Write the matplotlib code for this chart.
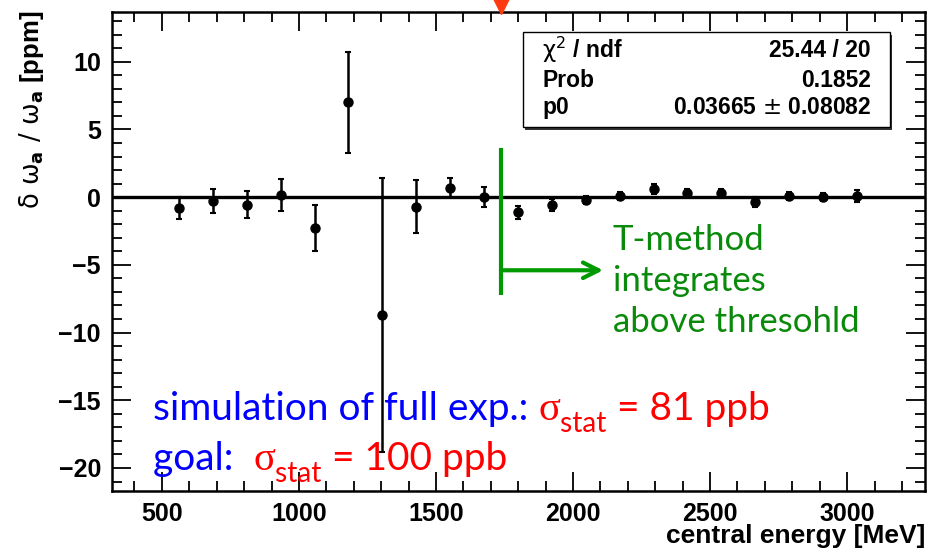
# plot.py
# Residuals of omega_a versus central energy, with a constant fit
# and the T-method threshold annotation.

import matplotlib
matplotlib.use("Agg")

import matplotlib.pyplot as plt
from matplotlib.patches import Rectangle
from matplotlib.ticker import MultipleLocator


# central energy of each slice [MeV]
ENERGY = [562, 686, 809, 933, 1057, 1180, 1304, 1428, 1552, 1675, 1799,
          1923, 2046, 2170, 2294, 2417, 2541, 2665, 2789, 2912, 3036]

# delta omega_a / omega_a [ppm]
DELTA = [-0.8, -0.3, -0.55, 0.15, -2.3, 7.0, -8.7, -0.7, 0.7, 0.02, -1.13,
         -0.6, -0.22, 0.1, 0.6, 0.32, 0.27, -0.35, 0.1, 0.02, 0.1]

DELTA_ERR = [0.8, 0.9, 1.0, 1.2, 1.7, 3.75, 10.1, 1.95, 0.72, 0.75, 0.5,
             0.45, 0.3, 0.3, 0.35, 0.3, 0.3, 0.35, 0.3, 0.3, 0.45]

# constant fit result (pol0)
FIT_P0 = 0.03665
FIT_P0_ERR = 0.08082
CHI2 = 25.44
NDF = 20
PROB = 0.1852

THRESHOLD = 1737  # MeV, T-method energy threshold

STAT_ROWS = [
    (r"$\mathrm{\chi}^{2}$ / ndf", f"{CHI2:.2f} / {NDF}"),
    ("Prob", f"{PROB:.4f}"),
    ("p0", f"{FIT_P0:.5f} $\\pm$ {FIT_P0_ERR:.5f}"),
]

SANS = ["Lato", "DejaVu Sans"]
ROOT_FONT = "Liberation Sans"


def chain_text(fig, x, y, parts, fontsize):
    """Draw text pieces one after another on a common baseline (pixel coords)."""
    renderer = fig.canvas.get_renderer()
    cur = x
    for text, color, family, size_scale, dy in parts:
        t = fig.text(cur / fig.bbox.width, 1 - (y + dy) / fig.bbox.height, text,
                     color=color, family=family, fontsize=fontsize * size_scale,
                     ha="left", va="baseline")
        bb = t.get_window_extent(renderer=renderer)
        cur = bb.x1


fig = plt.figure(figsize=(9.28, 5.51), dpi=100)
ax = fig.add_axes([0.1207, 0.1089, 0.876, 0.869])

ax.set_xlim(318, 3284)
ax.set_ylim(-21.7, 13.66)

# fit line
ax.axhline(FIT_P0, color="black", lw=2.4, zorder=2)

# data points
ax.errorbar(ENERGY, DELTA, yerr=DELTA_ERR, fmt="o", color="black",
            markersize=6.5, elinewidth=1.8, capsize=2.5, capthick=1.5, zorder=3)

# ROOT-like frame and ticks
for side in ax.spines.values():
    side.set_linewidth(1.8)
ax.xaxis.set_major_locator(MultipleLocator(500))
ax.xaxis.set_minor_locator(MultipleLocator(100))
ax.yaxis.set_major_locator(MultipleLocator(5))
ax.yaxis.set_minor_locator(MultipleLocator(1))
ax.tick_params(which="both", direction="in", top=True, right=True, width=1.3)
ax.tick_params(which="major", length=14)
ax.tick_params(which="minor", length=7)
ax.tick_params(axis="both", which="major", labelsize=18, pad=8)
ax.set_xticks([500, 1000, 1500, 2000, 2500, 3000])
ax.set_xticklabels(["500", "1000", "1500", "2000", "2500", "3000"],
                   fontweight="bold", family=ROOT_FONT, fontsize=18)
ax.set_yticks([-20, -15, -10, -5, 0, 5, 10])
ax.set_yticklabels(["\u221220", "\u221215", "\u221210", "\u22125", "0", "5", "10"],
                   fontweight="bold", family=ROOT_FONT, fontsize=18)

fig.text(0.997, 0.014, "central energy [MeV]", ha="right", va="baseline",
         fontsize=19, fontweight="bold", family=ROOT_FONT)
fig.text(0.034, 0.80,
         r"$\mathrm{\delta}\ \mathrm{\omega}_{\mathbf{a}}\ /\ \mathrm{\omega}_{\mathbf{a}}$ [ppm]",
         rotation=90, ha="center", va="center", fontsize=18.5,
         fontweight="bold", family=ROOT_FONT)

# stat box with shadow
box_x0, box_y0, box_w, box_h = 0.5055, 0.760, 0.4515, 0.198
ax.add_patch(Rectangle((box_x0 + 0.003, box_y0 - 0.006), box_w, box_h,
                       transform=ax.transAxes, facecolor="#333333",
                       edgecolor="none", zorder=4))
ax.add_patch(Rectangle((box_x0, box_y0), box_w, box_h, transform=ax.transAxes,
                       facecolor="white", edgecolor="black", lw=1.0, zorder=5))
for (label, value), yrow in zip(STAT_ROWS, [0.9207, 0.858, 0.8017]):
    ax.text(0.529, yrow, label, transform=ax.transAxes, ha="left", va="center",
            fontsize=16.5, fontweight="bold", family=ROOT_FONT, zorder=6)
    ax.text(0.9336, yrow, value, transform=ax.transAxes, ha="right", va="center",
            fontsize=16.5, fontweight="bold", family=ROOT_FONT, zorder=6)

# threshold marker and T-method arrow
green = "#009a00"
ax.plot([THRESHOLD, THRESHOLD], [3.6, -7.2], color=green, lw=3, zorder=4,
        solid_capstyle="butt")
ax.annotate("", xy=(2110, -5.4), xytext=(THRESHOLD, -5.4),
            arrowprops=dict(arrowstyle="->", color=green, lw=3,
                            mutation_scale=28, shrinkA=0, shrinkB=0), zorder=4)
ax.text(2145, -1.95, "T-method\nintegrates\nabove thresohld", color="#0a8a0a",
        fontsize=25, family=SANS, ha="left", va="top", linespacing=1.36)
ax.plot([THRESHOLD], [14.3], marker="v", color="#ff3a10", markersize=14,
        clip_on=False, zorder=6)

# statistical precision text
fig.canvas.draw()
fs = 28
chain_text(fig, 153, 420, [
    ("simulation of full exp.: ", "blue", SANS, 1.0, 0),
    ("\u03c3", "red", "Liberation Serif", 1.05, 0),
    ("stat", "red", SANS, 0.72, 12),
    (" = 81 ppb", "red", SANS, 1.0, 0),
], fs)
chain_text(fig, 153, 470, [
    ("goal:  ", "blue", SANS, 1.0, 0),
    ("\u03c3", "red", "Liberation Serif", 1.05, 0),
    ("stat", "red", SANS, 0.72, 12),
    (" = 100 ppb", "red", SANS, 1.0, 0),
], fs)

fig.savefig("out.png", dpi=100)
